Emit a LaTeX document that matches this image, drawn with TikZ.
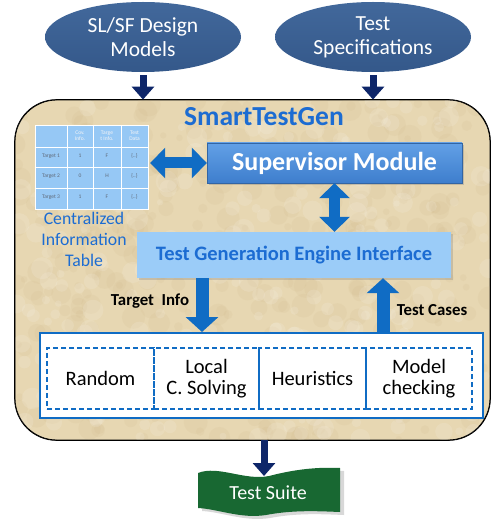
\documentclass[tikz,border=0pt]{standalone}
\usepackage{fontspec}
\setmainfont{Carlito}
\usetikzlibrary{arrows.meta,shapes.geometric,shadows}
\definecolor{ellblue}{RGB}{52,88,138}
\definecolor{ellblueT}{RGB}{66,104,155}
\definecolor{navy}{RGB}{14,38,105}
\definecolor{parch}{RGB}{231,215,178}
\definecolor{parchD}{RGB}{200,175,125}
\definecolor{arrblue}{RGB}{16,108,196}
\definecolor{supblueT}{RGB}{98,160,230}
\definecolor{supblueB}{RGB}{62,126,205}
\definecolor{engblue}{RGB}{155,204,248}
\definecolor{tabblue}{RGB}{150,200,245}
\definecolor{titleblue}{RGB}{28,108,210}
\definecolor{suitegreen}{RGB}{24,104,50}
\definecolor{celltext}{RGB}{95,105,120}
\tikzset{
  ell/.style={ellipse, minimum width=196pt, minimum height=70pt, inner sep=0pt,
    top color=ellblueT, bottom color=ellblue, text=white, align=center,
    font=\fontsize{21.5}{24}\selectfont},
  navyarrow/.style={draw=navy, line width=7pt,
    -{Triangle[width=22pt,length=13pt]}},
  bluedbl/.style={draw=arrblue, line width=11pt,
    {Triangle[width=30pt,length=15pt]}-{Triangle[width=30pt,length=15pt]}},
  bluearrow/.style={draw=arrblue, line width=13pt,
    -{Triangle[width=32pt,length=15pt]}},
  cell/.style={text=celltext, font=\fontsize{5.5}{6}\selectfont, align=center, inner sep=0pt},
  hcell/.style={text=white!92!gray, font=\fontsize{5.5}{6}\selectfont, align=center, inner sep=0pt},
  methbox/.style={draw=arrblue, line width=1.6pt, dash pattern=on 5pt off 3pt,
    minimum height=61pt, inner sep=0pt, align=center, font=\fontsize{20.5}{21}\selectfont},
  lbl/.style={font=\bfseries\fontsize{16.8}{18}\selectfont, text=black},
}
\begin{document}
\begin{tikzpicture}[x=1pt,y=-1pt]
\useasboundingbox[fill=white] (0,0) rectangle (498,521);
% main container
\node[draw=black, line width=0.8pt, rounded corners=42pt, fill=parch,
  minimum width=475pt, minimum height=340pt] (main) at (252.5,270) {};
\begin{scope}
  \clip[rounded corners=42pt] (main.south west) rectangle (main.north east);
  \pgfmathsetseed{7}
  \foreach \i in {1,...,420}{
    \pgfmathsetmacro\px{15+475*rnd}
    \pgfmathsetmacro\py{100+340*rnd}
    \pgfmathsetmacro\pr{3+9*rnd}
    \fill[parchD, opacity=0.10] (\px,\py) circle (\pr pt);
  }
  \foreach \i in {1,...,260}{
    \pgfmathsetmacro\px{15+475*rnd}
    \pgfmathsetmacro\py{100+340*rnd}
    \pgfmathsetmacro\pr{3+8*rnd}
    \fill[white, opacity=0.12] (\px,\py) circle (\pr pt);
  }
\end{scope}
\draw[black, line width=0.8pt, rounded corners=42pt] (main.south west) rectangle (main.north east);
% input ellipses
\node[ell] (sl) at (143,37) {SL/SF Design\\Models};
\node[ell] (ts) at (373,37) {Test\\Specifications};
\draw[navyarrow] ([yshift=-3pt]sl.south) -- (sl.south |- main.north);
\draw[navyarrow] ([yshift=-3pt]ts.south) -- (ts.south |- main.north);
% title
\node[text=titleblue, font=\bfseries\fontsize{27.5}{30}\selectfont] (title) at (264,117) {SmartTestGen};
% table
\node[fill=tabblue, minimum width=113pt, minimum height=84pt, inner sep=0pt] (tab) at (91.5,167) {};
\foreach \xx in {67,93,121} \draw[white, line width=0.9pt] (\xx,125) -- (\xx,209);
\foreach \yy in {147,167,188} \draw[white, line width=0.9pt] (35,\yy) -- (148,\yy);
\draw[white, line width=0.9pt] (35,125) rectangle (148,209);
\node[hcell] (h1) at (80,136) {Cov.\\Info.};
\node[hcell] (h2) at (107,136) {Targe\\t Info.};
\node[hcell] (h3) at (134.5,136) {Test\\Data};
\node[cell] (r1a) at (51,156) {Target 1};
\node[cell] (r1b) at (80,156) {1};
\node[cell] (r1c) at (107,156) {F};
\node[cell] (r1d) at (134.5,156) {\{..\}};
\node[cell] (r2a) at (51,176) {Target 2};
\node[cell] (r2b) at (80,176) {0};
\node[cell] (r2c) at (107,176) {H};
\node[cell] (r2d) at (134.5,176) {\{..\}};
\node[cell] (r3a) at (51,197) {Target 3};
\node[cell] (r3b) at (80,197) {1};
\node[cell] (r3c) at (107,197) {F};
\node[cell] (r3d) at (134.5,197) {\{..\}};
\node[text=titleblue, align=center, font=\fontsize{17.7}{21}\selectfont] (cit) at (84,239)
  {Centralized\\Information\\Table};
% supervisor
\node[top color=supblueT, bottom color=supblueB, draw=supblueB!80!black, line width=0.4pt,
  minimum width=255pt, minimum height=40pt, text=white,
  font=\bfseries\fontsize{26}{28}\selectfont,
  drop shadow={opacity=0.35, shadow xshift=2pt, shadow yshift=-2pt}] (sup) at (334.5,163) {Supervisor Module};
% engine interface
\node[fill=engblue, minimum width=314pt, minimum height=46pt, text=titleblue,
  font=\bfseries\fontsize{20.5}{22}\selectfont,
  drop shadow={opacity=0.3, shadow xshift=2pt, shadow yshift=-2pt}] (eng) at (294,255) {Test Generation Engine Interface};
% arrows between table / supervisor / engine
\draw[bluedbl] ([xshift=2pt]tab.east |- sup.west) -- (sup.west);
\draw[bluedbl] (sup.south) -- (sup.south |- eng.north);
% methods container
\node[draw=arrblue, fill=white, line width=2pt, minimum width=443pt, minimum height=85pt] (meth) at (261.5,375.5) {};
\node[methbox, minimum width=107pt] (rand) at (100.5,378.5) {Random};
\node[methbox, minimum width=105pt] (local) at (206.5,378.5) {Local\\C. Solving};
\node[methbox, minimum width=107pt] (heur) at (312.5,378.5) {Heuristics};
\node[methbox, minimum width=106pt] (model) at (419,378.5) {Model\\checking};
% target info / test cases
\coordinate (tix) at (202,0);
\coordinate (tcx) at (383,0);
\draw[bluearrow] (eng.south -| tix) -- (meth.north -| tix);
\draw[bluearrow] (meth.north -| tcx) -- (eng.south -| tcx);
\node[lbl] (tilbl) at (150,301) {Target\ \ Info};
\node[lbl] (tclbl) at (432,310) {Test Cases};
% test suite banner
\fill[gray!60, opacity=0.5] (202,476) .. controls (222,468) and (248,484) .. (273,479)
  .. controls (300,472) and (322,470) .. (344,471) -- (344,515)
  .. controls (320,514) and (296,513) .. (270,518)
  .. controls (245,522) and (222,512) .. (202,511) -- cycle;
\fill[suitegreen] (198,473) .. controls (218,465) and (245,481) .. (269,476)
  .. controls (296,469) and (318,467) .. (340,468) -- (340,512)
  .. controls (316,511) and (292,510) .. (266,515)
  .. controls (241,519) and (218,509) .. (198,508) -- cycle;
\node[text=white, font=\fontsize{20}{22}\selectfont] (suite) at (268,493) {Test Suite};
\coordinate (sx) at (264,0);
\coordinate (stop) at (264,476);
\draw[navyarrow] (main.south -| sx) -- (stop);
\end{tikzpicture}
\end{document}
